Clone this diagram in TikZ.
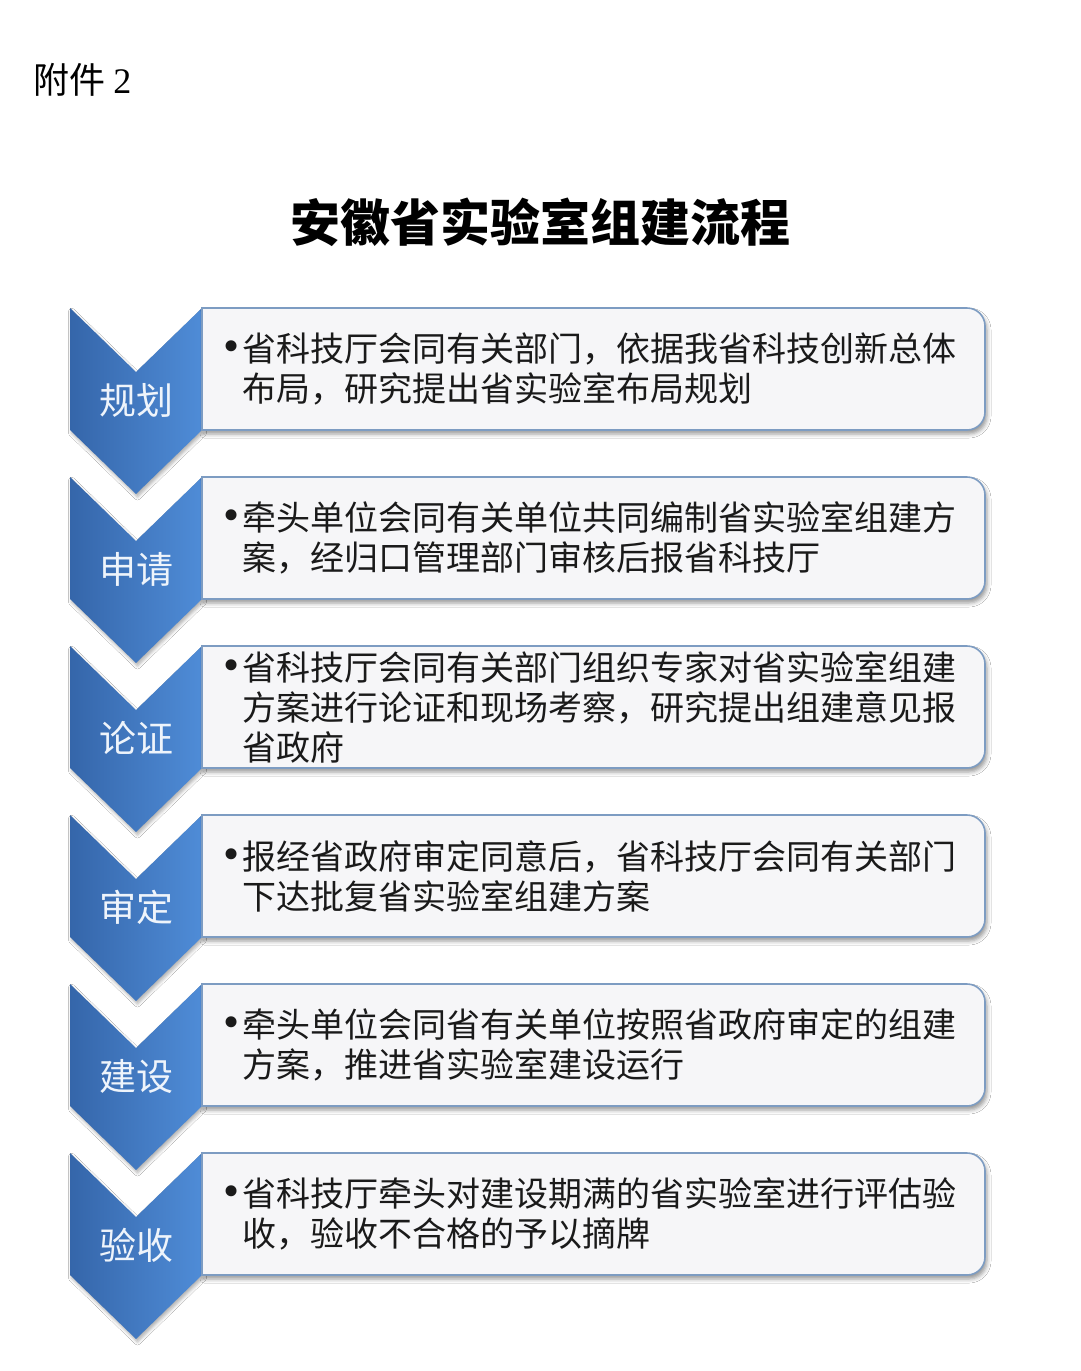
\documentclass[tikz,border=0pt]{standalone}
\usepackage{fontspec}
\setmainfont{Noto Sans CJK SC}
\newfontfamily\latinserif{Liberation Serif}
\usetikzlibrary{shadows.blur}
\definecolor{chevdark}{HTML}{3566AA}
\definecolor{chevlight}{HTML}{4F8CD7}
\definecolor{boxedge}{HTML}{7D9CC2}
\definecolor{boxfill}{HTML}{F6F6F8}
\definecolor{labeltext}{HTML}{EEF4FB}
\definecolor{bodytext}{HTML}{1A1A1A}
\tikzset{
  chev/.style={left color=chevdark, right color=chevlight, draw=none,
    blur shadow={shadow xshift=1.5pt, shadow yshift=-3pt, shadow blur radius=3pt, shadow opacity=30}},
  stepbox/.style={fill=boxfill, draw=boxedge, line width=1.6pt,
    blur shadow={shadow xshift=2pt, shadow yshift=-4pt, shadow blur radius=4pt, shadow opacity=40}},
  steplabel/.style={text=labeltext, font=\fontsize{37}{40}\selectfont, inner sep=0pt},
  steptext/.style={anchor=west, align=left, inner sep=0pt, font=\fontsize{34}{40}\selectfont, text=bodytext},
}
\newcommand\bulletmark{{\latinserif\fontsize{46}{40}\selectfont •}\hspace{3pt}}
\newcommand\drawstep[4]{%
  \path[chev] (70,#2) -- (136,#2+64) -- (202,#2) -- (202,#2+122) -- (136,#2+186) -- (70,#2+122) -- cycle;
  \path[stepbox] (600,#2) [rounded corners=18pt] -- (985,#2) -- (985,#2+122) -- (600,#2+122) [sharp corners] -- (202,#2+122) -- (202,#2) -- cycle;
  \node[steplabel] (lab#1) at (136,#2+92) {#3};
  \node[steptext] (txt#1) at (242,#2+61) {\llap{\bulletmark}#4};
}
\begin{document}
\begin{tikzpicture}[x=1pt,y=-1pt]
  \fill[white] (0,0) rectangle (1080,1371);
  \useasboundingbox (0,0) rectangle (1080,1371);
  \node[anchor=west, inner sep=0pt, font=\fontsize{36}{36}\selectfont, text=black] (annex) at (33,80) {附件 {\latinserif 2}};
  \node[inner sep=0pt, font=\fontsize{50}{50}\selectfont\bfseries, text=black] (title) at (540,222) {安徽省实验室组建流程};
  \drawstep{1}{308}{规划}{省科技厅会同有关部门，依据我省科技创新总体\\布局，研究提出省实验室布局规划}
  \drawstep{2}{477}{申请}{牵头单位会同有关单位共同编制省实验室组建方\\案，经归口管理部门审核后报省科技厅}
  \drawstep{3}{646}{论证}{省科技厅会同有关部门组织专家对省实验室组建\\方案进行论证和现场考察，研究提出组建意见报\\省政府}
  \drawstep{4}{815}{审定}{报经省政府审定同意后，省科技厅会同有关部门\\下达批复省实验室组建方案}
  \drawstep{5}{984}{建设}{牵头单位会同省有关单位按照省政府审定的组建\\方案，推进省实验室建设运行}
  \drawstep{6}{1153}{验收}{省科技厅牵头对建设期满的省实验室进行评估验\\收，验收不合格的予以摘牌}
\end{tikzpicture}
\end{document}
